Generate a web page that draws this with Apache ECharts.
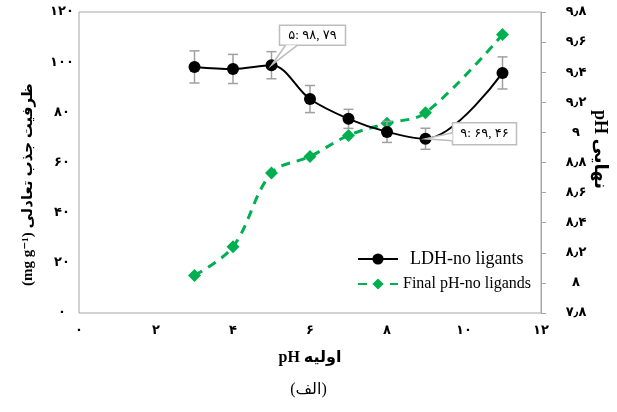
<!DOCTYPE html>
<html>
<head>
<meta charset="utf-8">
<script src="https://cdn.jsdelivr.net/npm/echarts/dist/echarts.min.js"></script>
<style>
html,body{margin:0;padding:0;background:#fff}
#c{width:617px;height:412px}
</style>
</head>
<body>
<div id="c"></div>
<script>
// Initial pH values of the adsorption runs
const phInitial = [3, 4, 5, 6, 7, 8, 9, 11];
// Equilibrium adsorption capacity (mg g-1) and its error
const capacity = [98.1, 97.3, 98.79, 85.3, 77.4, 72.2, 69.46, 95.7];
const capacityErr = [6.4, 5.8, 5.4, 5.4, 3.8, 4.2, 4.2, 6.4];
// Final pH after adsorption
const phFinal = [8.05, 8.24, 8.73, 8.84, 8.98, 9.06, 9.13, 9.65];
// Points that carry a value callout (indices into the arrays above)
const calloutIdx = [2, 6];

const seriesNames = ['LDH-no ligants', 'Final pH-no ligands'];
const xAxisTitle = 'pH اولیه';
const yLeftTitle = '(mg g⁻¹) ظرفیت جذب تعادلی';
const yRightTitle = 'pH نهایی';
const panelTitle = '(الف)';

const FA_DIGITS = '۰۱۲۳۴۵۶۷۸۹';
const fa = s => String(s).replace(/\d/g, d => FA_DIGITS[d]);
const faDec = v => fa(String(Number(v.toFixed(1)))).replace('.', '٫');
const calloutText = i => {
  const parts = capacity[i].toFixed(2).split('.');
  return fa(phInitial[i]) + ': ' + fa(parts[0]) + ', ' + fa(parts[1]);
};

const FONT = '"Liberation Serif", "DejaVu Sans", serif';
const GRAY = '#a6a6a6';
const GREEN = '#00b050';

// Callout box geometry relative to the pointed data point
const calloutLayout = [
  { box: [8, -40, 66, 20], base: [[14, -20], [26, -20]] },
  { box: [27, -16, 64, 22], base: [[27, -6], [27, 2]] }
];

const chart = echarts.init(document.getElementById('c'), null, { renderer: 'canvas' });

chart.setOption({
  animation: false,
  backgroundColor: '#fff',
  textStyle: { fontFamily: FONT },
  grid: {
    left: 79, right: 76, top: 12, bottom: 99,
    containLabel: false, outerBoundsMode: 'none',
    show: true, borderColor: GRAY, borderWidth: 1, backgroundColor: 'transparent'
  },
  graphic: [{
    type: 'text', left: 'center', top: 382,
    style: { text: panelTitle, font: '16px ' + FONT, fill: '#000' }
  }],
  legend: {
    orient: 'vertical', left: 352, top: 245,
    itemWidth: 40, itemHeight: 14, itemGap: 8,
    textStyle: { fontFamily: FONT, color: '#000' },
    data: [
      { name: seriesNames[0], textStyle: { fontSize: 18, padding: [0, 0, 0, 7] } },
      { name: seriesNames[1], textStyle: { fontSize: 16, padding: [0, 0, 0, 0] } }
    ]
  },
  xAxis: {
    type: 'value', min: 0, max: 12, interval: 2,
    name: xAxisTitle, nameLocation: 'middle', nameGap: 37,
    nameTextStyle: { fontSize: 16, fontWeight: 'bold', color: '#000', fontFamily: FONT },
    axisLine: { show: false }, axisTick: { show: false }, splitLine: { show: false },
    axisLabel: { margin: 11, fontSize: 13, fontWeight: 'bold', color: '#000', formatter: v => fa(v) }
  },
  yAxis: [{
    type: 'value', min: 0, max: 120, interval: 20, position: 'left',
    name: yLeftTitle, nameLocation: 'middle', nameGap: 43, nameRotate: 90,
    nameMoveOverlap: false,
    nameTextStyle: { fontSize: 15, fontWeight: 'bold', color: '#000', fontFamily: FONT,
                     padding: [0, 44, 0, 0] },
    axisLine: { show: false }, axisTick: { show: false }, splitLine: { show: false },
    axisLabel: { margin: 17, align: 'center', fontSize: 13, fontWeight: 'bold', color: '#000', formatter: v => fa(v) }
  }, {
    type: 'value', min: 7.8, max: 9.8, interval: 0.2, position: 'right',
    name: yRightTitle, nameLocation: 'middle', nameGap: 50, nameRotate: -90,
    nameMoveOverlap: false,
    nameTextStyle: { fontSize: 18, fontWeight: 'bold', color: '#000', fontFamily: FONT,
                     padding: [0, 26, 0, 0] },
    axisLine: { show: true, lineStyle: { color: GRAY, width: 1 } },
    axisTick: { show: true, inside: false, length: 5, lineStyle: { color: GRAY } },
    splitLine: { show: false },
    axisLabel: { margin: 35, align: 'center', fontSize: 13, fontWeight: 'bold', color: '#000', formatter: v => faDec(v) }
  }],
  series: [
    {
      name: seriesNames[1], type: 'line', yAxisIndex: 1, z: 3,
      data: phInitial.map((x, i) => [x, phFinal[i]]),
      smooth: 0.35, symbol: 'diamond', symbolSize: 13,
      itemStyle: { color: GREEN },
      lineStyle: { color: GREEN, width: 3, type: [9, 7] }
    },
    {
      name: 'error', type: 'custom', yAxisIndex: 0, z: 4, silent: true,
      data: phInitial.map((x, i) => [x, capacity[i], capacityErr[i]]),
      renderItem: (params, api) => {
        const x = api.value(0), y = api.value(1), e = api.value(2);
        const t = api.coord([x, y + e]), b = api.coord([x, y - e]);
        const st = { stroke: '#a0a0a0', lineWidth: 1.5 };
        return {
          type: 'group', children: [
            { type: 'line', shape: { x1: t[0], y1: t[1], x2: b[0], y2: b[1] }, style: st },
            { type: 'line', shape: { x1: t[0] - 5, y1: t[1], x2: t[0] + 5, y2: t[1] }, style: st },
            { type: 'line', shape: { x1: b[0] - 5, y1: b[1], x2: b[0] + 5, y2: b[1] }, style: st }
          ]
        };
      }
    },
    {
      name: seriesNames[0], type: 'line', yAxisIndex: 0, z: 5,
      data: phInitial.map((x, i) => [x, capacity[i]]),
      smooth: 0.35, symbol: 'circle', symbolSize: 12,
      itemStyle: { color: '#000' },
      lineStyle: { color: '#000', width: 2 }
    },
    {
      name: 'callouts', type: 'custom', yAxisIndex: 0, z: 10, silent: true,
      data: calloutIdx.map(i => [phInitial[i], capacity[i]]),
      renderItem: (params, api) => {
        const p = api.coord([api.value(0), api.value(1)]);
        const L = calloutLayout[params.dataIndex];
        const i = calloutIdx[params.dataIndex];
        const bx = p[0] + L.box[0], by = p[1] + L.box[1];
        const b1 = [p[0] + L.base[0][0], p[1] + L.base[0][1]];
        const b2 = [p[0] + L.base[1][0], p[1] + L.base[1][1]];
        return {
          type: 'group', children: [
            { type: 'rect', shape: { x: bx, y: by, width: L.box[2], height: L.box[3] },
              style: { fill: '#fff', stroke: '#bdbdbd', lineWidth: 1.5 } },
            { type: 'polygon', shape: { points: [b1, p, b2] },
              style: { fill: '#fff', stroke: null } },
            { type: 'polyline', shape: { points: [b1, p, b2] },
              style: { fill: null, stroke: '#bdbdbd', lineWidth: 1.5 } },
            { type: 'text', x: bx + L.box[2] / 2, y: by + L.box[3] / 2,
              style: { text: calloutText(i), font: '13px ' + FONT, fill: '#000',
                       align: 'center', verticalAlign: 'middle' } }
          ]
        };
      }
    }
  ]
});
</script>
</body>
</html>
